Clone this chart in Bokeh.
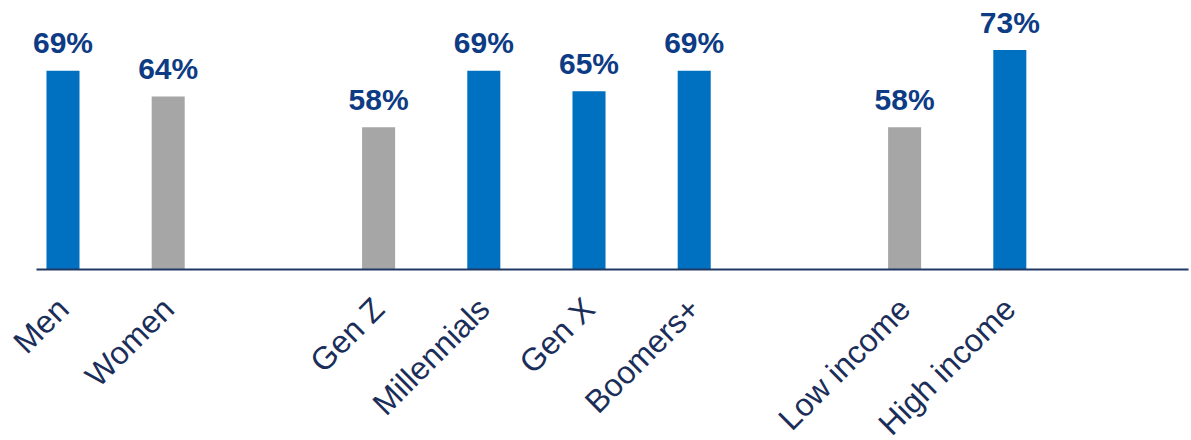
import math
from bokeh.plotting import figure
from bokeh.models import ColumnDataSource, Range1d
from bokeh.core.properties import value
from bokeh.embed import file_html
from bokeh.resources import INLINE

# ---- data ----
groups = [["Men", "Women"],
          ["Gen Z", "Millennials", "Gen X", "Boomers+"],
          ["Low income", "High income"]]
categories = ["Men", "Women", "Gen Z", "Millennials", "Gen X", "Boomers+", "Low income", "High income"]
values = [69, 64, 58, 69, 65, 69, 58, 73]
highlight = [True, False, False, True, True, True, False, True]
pct_labels = [f"{v}%" for v in values]

BLUE = "#0070C0"
GREY = "#A6A6A6"
NAVY = "#0D3B84"
DARK = "#1B2E5A"

# positions: one empty slot between groups
xs = []
pos = 0
for g in groups:
    for _ in g:
        xs.append(pos)
        pos += 1
    pos += 1

base = 30.4
colors = [BLUE if h else GREY for h in highlight]
src = ColumnDataSource(dict(x=xs, top=values, color=colors, cat=categories, pct=pct_labels,
                            base=[base] * len(xs)))

p = figure(width=1189, height=440,
           x_range=Range1d(-0.594, 10.708), y_range=Range1d(-2.81, 82.63),
           output_backend="svg", toolbar_location=None,
           min_border=0)
p.axis.visible = False
p.grid.visible = False
p.outline_line_color = None
p.background_fill_color = "white"
p.border_fill_color = "white"

p.vbar(x="x", top="top", bottom="base", width=0.314, color="color", line_color=None, source=src)

# baseline
p.segment(x0=[-0.252], y0=[base], x1=[10.699], y1=[base], line_color="#1F3864", line_width=2)

# value labels
p.text(x="x", y="top", text="pct", source=src, text_align="center", text_baseline="alphabetic",
       y_offset=-28, text_font=value("Liberation Sans"), text_font_style="bold",
       text_font_size="30px", text_color=NAVY)

# category labels (rotated)
p.text(x="x", y="base", text="cat", source=src, angle=math.pi / 4,
       text_align="right", text_baseline="middle", x_offset=0, y_offset=34,
       text_font=value("Liberation Sans"), text_font_size="32px", text_color=DARK)

open("out.html", "w").write(file_html(p, INLINE))
